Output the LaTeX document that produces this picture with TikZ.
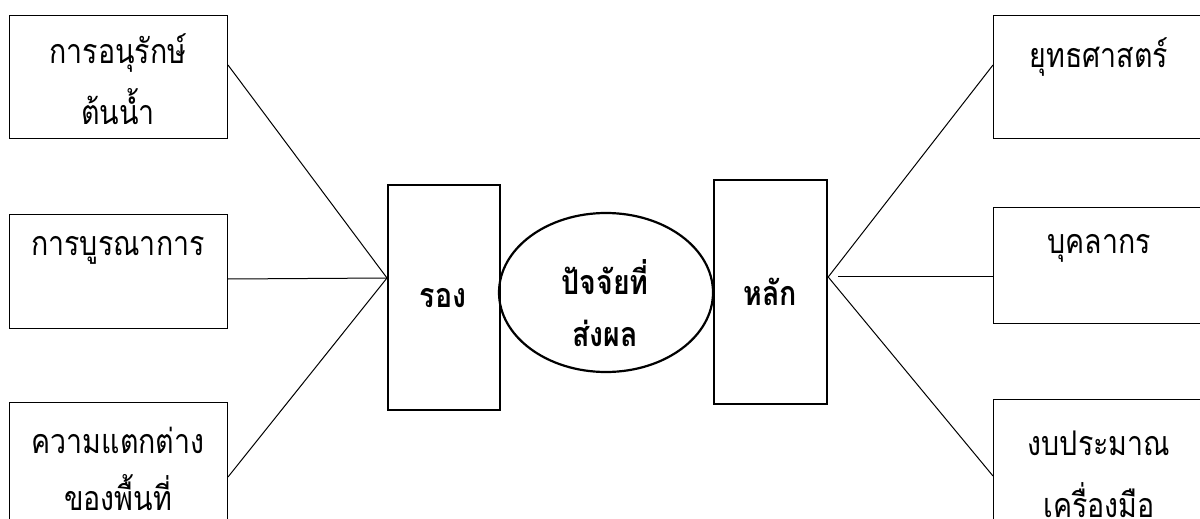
\documentclass[tikz,border=0pt]{standalone}
\usepackage{fontspec}
\newfontfamily\thai[Script=Thai,FakeStretch=0.84]{Loma}
\usetikzlibrary{shapes.geometric,calc}
\begin{document}
\begin{tikzpicture}[x=0.5pt,y=-0.5pt,
  box/.style={draw, line width=0.5pt, minimum width=109pt, minimum height=61.5pt, inner sep=0pt, anchor=north west},
  tbox/.style={draw, line width=1.1pt, inner sep=0pt, anchor=north west},
  txt/.style={font=\thai\fontsize{17}{20}\selectfont, inner sep=0pt},
  btxt/.style={font=\thai\bfseries\fontsize{17}{20}\selectfont, inner sep=0pt},
  conn/.style={line width=0.5pt}]
\useasboundingbox (0,0) rectangle (1200,519);
\clip (0,0) rectangle (1200,519);
% left boxes
\node[box] (lb1) at (9,15) {};
\node[box, minimum height=57pt] (lb2) at (9,214) {};
\node[box] (lb3) at (9,402) {};
% right boxes
\node[box] (rb1) at (993,15) {};
\node[box, minimum height=58pt] (rb2) at (993,207) {};
\node[box] (rb3) at (993,399) {};
% centre
\node[tbox, minimum width=56pt, minimum height=112.5pt] (rong) at (387,184) {};
\node[tbox, minimum width=56.5pt, minimum height=112pt] (lak) at (713,179) {};
\node[draw, ellipse, line width=1.1pt, inner sep=0pt, minimum width=107pt, minimum height=79.5pt] (core) at (606,292.5) {};
% texts
\node[txt] (t1a) at (118,53) {การอนุรักษ์};
\node[txt] (t1b) at (118,107) {ต้นน้ำ};
\node[txt] (t2) at (118,250) {การบูรณาการ};
\node[txt] (t3a) at (118,440) {ความแตกต่าง};
\node[txt] (t3b) at (118,493) {ของพื้นที่};
\node[txt] (r1) at (1099,57) {ยุทธศาสตร์};
\node[txt] (r2) at (1099,248) {บุคลากร};
\node[txt] (r3a) at (1099,443) {งบประมาณ};
\node[txt] (r3b) at (1099,500) {เครื่องมือ};
\node[btxt] (trong) at (443,298) {รอง};
\node[btxt] (tcore1) at (605,277) {ปัจจัยที่};
\node[btxt] (tcore2) at (605,333) {ส่งผล};
\node[btxt] (tlak) at (770,292) {หลัก};
% connectors
\coordinate (rin) at ($(rong.north west)+(0,94)$);
\coordinate (lout) at ($(lak.north east)+(0,98)$);
\coordinate (lgap) at ($(lak.north east)+(10,97)$);
\draw[conn] ($(lb1.north east)+(0,50)$) -- (rin);
\draw[conn] ($(lb2.north east)+(0,65)$) -- (rin);
\draw[conn] ($(lb3.north east)+(0,75)$) -- (rin);
\draw[conn] (lout) -- ($(rb1.north west)+(0,50)$);
\draw[conn] (lgap) -- ($(rb2.north west)+(0,69)$);
\draw[conn] (lout) -- ($(rb3.north west)+(0,77)$);
\end{tikzpicture}
\end{document}
